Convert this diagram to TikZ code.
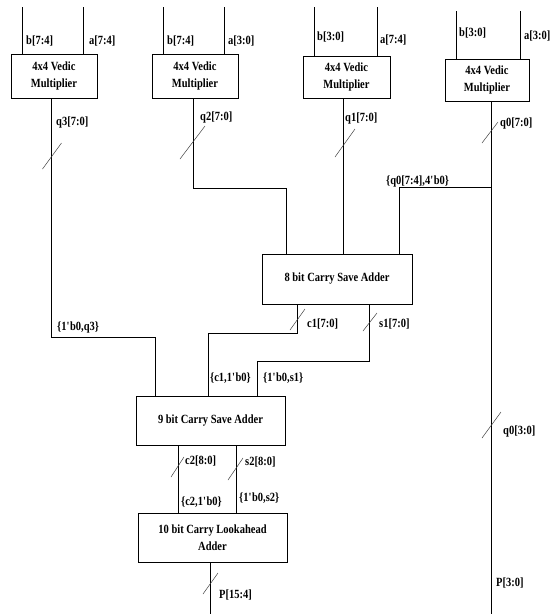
\documentclass[tikz,border=0pt]{standalone}
\usepackage{fontspec}
\setmainfont[FakeStretch=0.84]{Liberation Serif}
\newcommand{\tick}{\textquotesingle}
\begin{document}
\begin{tikzpicture}[x=1pt,y=-1pt,
    wire/.style={line width=0.8pt},
    bus/.style={line width=0.5pt,black!75},
    block/.style={draw,line width=0.8pt,inner sep=0pt,align=center,
      font=\bfseries\fontsize{12.5}{16.5}\selectfont},
    lbl/.style={anchor=west,inner sep=0pt,font=\bfseries\fontsize{12.5}{14}\selectfont}]
  \useasboundingbox (0,0) rectangle (553,614);
  % blocks
  \node[block,minimum width=86pt,minimum height=44pt] (mult3) at (54,76) {4x4 Vedic\\Multiplier};
  \node[block,minimum width=86pt,minimum height=44pt] (mult2) at (195,76) {4x4 Vedic\\Multiplier};
  \node[block,minimum width=87pt,minimum height=42pt] (mult1) at (346.5,77) {4x4 Vedic\\Multiplier};
  \node[block,minimum width=84pt,minimum height=42pt] (mult0) at (487,80) {4x4 Vedic\\Multiplier};
  \node[block,minimum width=150pt,minimum height=50pt] (csa8) at (337,279) {8 bit Carry Save Adder};
  \node[block,minimum width=149pt,minimum height=49pt] (csa9) at (210.5,420.5) {9 bit Carry Save Adder};
  \node[block,minimum width=149pt,minimum height=49pt] (cla10) at (212.5,537.5) {10 bit Carry Lookahead\\[1pt]Adder};
  % input wires
  \coordinate (b3in) at (22,7);
  \coordinate (a3in) at (83,7);
  \coordinate (b2in) at (163,7);
  \coordinate (a2in) at (224,7);
  \coordinate (b1in) at (314,7);
  \coordinate (a1in) at (377,7);
  \coordinate (b0in) at (456,11);
  \coordinate (a0in) at (520,11);
  \draw[wire] (b3in) -- (b3in |- mult3.north);
  \draw[wire] (a3in) -- (a3in |- mult3.north);
  \draw[wire] (b2in) -- (b2in |- mult2.north);
  \draw[wire] (a2in) -- (a2in |- mult2.north);
  \draw[wire] (b1in) -- (b1in |- mult1.north);
  \draw[wire] (a1in) -- (a1in |- mult1.north);
  \draw[wire] (b0in) -- (b0in |- mult0.north);
  \draw[wire] (a0in) -- (a0in |- mult0.north);
  \node[lbl] (b3lbl) at (26,41) {b[7:4]};
  \node[lbl] (a3lbl) at (89,41) {a[7:4]};
  \node[lbl] (b2lbl) at (167,41) {b[7:4]};
  \node[lbl] (a2lbl) at (228,41) {a[3:0]};
  \node[lbl] (b1lbl) at (317,37) {b[3:0]};
  \node[lbl] (a1lbl) at (380,40) {a[7:4]};
  \node[lbl] (b0lbl) at (459,33) {b[3:0]};
  \node[lbl] (a0lbl) at (524,36) {a[3:0]};
  % partial products
  \coordinate (q3bend) at (51,337);
  \coordinate (q3end) at (155,396);
  \coordinate (q2bend) at (193,188);
  \coordinate (q2end) at (286,254);
  \coordinate (q1x) at (343,150);
  \coordinate (q0tap) at (491,187);
  \coordinate (q0end) at (399,254);
  \coordinate (q0bot) at (491,614);
  \draw[wire] (mult3.south -| q3bend) -- (q3bend) -| (q3end |- csa9.north);
  \draw[wire] (mult2.south -| q2bend) -- (q2bend) -| (q2end |- csa8.north);
  \draw[wire] (mult1.south -| q1x) -- (q1x |- csa8.north);
  \draw[wire] (mult0.south -| q0bot) -- (q0bot);
  \draw[wire] (q0tap) -| (q0end |- csa8.north);
  \node[lbl] (q3lbl) at (56,122) {q3[7:0]};
  \node[lbl] (q2lbl) at (200,117) {q2[7:0]};
  \node[lbl] (q1lbl) at (345,118) {q1[7:0]};
  \node[lbl] (q0lbl) at (500,123) {q0[7:0]};
  \node[lbl] (q0hlbl) at (386,181) {\{q0[7:4],4\tick b0\}};
  \node[lbl] (q3xlbl) at (57,327) {\{1\tick b0,q3\}};
  % carry save outputs
  \coordinate (c1bend) at (297,333);
  \coordinate (c1end) at (208,396);
  \coordinate (s1bend) at (369,361);
  \coordinate (s1end) at (257,396);
  \draw[wire] (csa8.south -| c1bend) -- (c1bend) -| (c1end |- csa9.north);
  \draw[wire] (csa8.south -| s1bend) -- (s1bend) -| (s1end |- csa9.north);
  \node[lbl] (c1lbl) at (307,324) {c1[7:0]};
  \node[lbl] (s1lbl) at (379,324) {s1[7:0]};
  \node[lbl] (c1xlbl) at (210,378) {\{c1,1\tick b0\}};
  \node[lbl] (s1xlbl) at (263,378) {\{1\tick b0,s1\}};
  \coordinate (c2x) at (178,470);
  \coordinate (s2x) at (236,470);
  \draw[wire] (csa9.south -| c2x) -- (cla10.north -| c2x);
  \draw[wire] (csa9.south -| s2x) -- (cla10.north -| s2x);
  \node[lbl] (c2lbl) at (185,461) {c2[8:0]};
  \node[lbl] (s2lbl) at (245,462) {s2[8:0]};
  \node[lbl] (c2xlbl) at (181,502) {\{c2,1\tick b0\}};
  \node[lbl] (s2xlbl) at (239,498) {\{1\tick b0,s2\}};
  % product
  \coordinate (pbot) at (210,614);
  \draw[wire] (cla10.south -| pbot) -- (pbot);
  \node[lbl] (phlbl) at (219,595) {P[15:4]};
  \node[lbl] (q0llbl) at (503,431) {q0[3:0]};
  \node[lbl] (pllbl) at (496,583) {P[3:0]};
  % bus width marks
  \draw[bus] (52,156) +(-9.5,13) -- +(9.5,-13);
  \draw[bus] (192.5,142.5) +(-12.5,16.5) -- +(12.5,-16.5);
  \draw[bus] (345,143) +(-10,14) -- +(10,-14);
  \draw[bus] (490,132.5) +(-8,10.5) -- +(8,-10.5);
  \draw[bus] (297.5,319.5) +(-7.5,10.5) -- +(7.5,-10.5);
  \draw[bus] (370,322) +(-7,9) -- +(7,-9);
  \draw[bus] (177.5,467) +(-6.5,10) -- +(6.5,-10);
  \draw[bus] (235.5,469) +(-7.5,11) -- +(7.5,-11);
  \draw[bus] (210.5,583.5) +(-7.5,10.5) -- +(7.5,-10.5);
  \draw[bus] (491.5,425) +(-9.5,13) -- +(9.5,-13);
\end{tikzpicture}
\end{document}
